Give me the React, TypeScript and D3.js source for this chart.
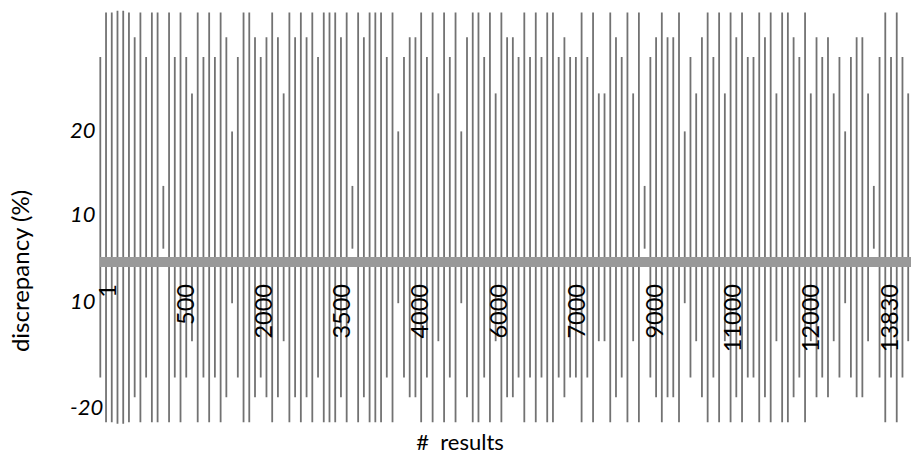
import React, { useEffect, useRef } from 'react';
import * as d3 from 'd3';

// half-spread of the discrepancy for each sampled result, left to right (%)
const spread = [
  19.4, 24.8, 24.8, 25, 25, 24.8, 21.8, 24.8, 19.4, 24.8, 24.8, 3.8,
  24.8, 19.4, 24.8, 19.4, 15, 24.8, 19.4, 24.8, 19.4, 24.8, 21.8, 10.4,
  19.4, 24.8, 24.8, 21.8, 19.4, 21.8, 24.8, 21.8, 15, 24.8, 21.8, 24.8,
  21.8, 24.8, 19.4, 24.8, 24.8, 24.8, 21.8, 24.8, 3.8, 24.8, 21.8, 24.8,
  24.8, 24.8, 19.4, 24.8, 10.4, 19.4, 21.8, 21.8, 24.8, 19.4, 24.8, 15,
  24.8, 19.4, 24.8, 10.4, 21.8, 24.8, 24.8, 19.4, 24.8, 15, 24.8, 21.8,
  21.8, 19.4, 24.8, 19.4, 24.8, 19.4, 24.8, 24.8, 19.4, 21.8, 19.4, 19.4,
  24.8, 19.4, 24.8, 15, 15, 24.8, 21.8, 19.4, 24.8, 15, 24.8, 3.8,
  19.4, 21.8, 24.8, 21.8, 21.8, 24.8, 10.4, 19.4, 15, 21.8, 24.8, 19.4,
  24.8, 15, 24.8, 21.8, 24.8, 19.4, 19.4, 24.8, 21.8, 24.8, 15, 24.8,
  24.8, 21.8, 19.4, 24.8, 15, 21.8, 19.4, 21.8, 15, 19.4, 10.4, 19.4,
  21.8, 21.8, 15, 3.8, 19.4, 24.8, 19.4, 24.8, 19.4, 15,
];

const xTickLabels = ['1', '500', '2000', '3500', '4000', '6000', '7000', '9000', '11000', '12000', '13830'];
const yTickValues = [20, 10, -10, -20];
const yTickLabels = ['20', '10', '10', '-20'];

const font = 'Lato, "Open Sans", sans-serif';

const App = () => {
  const svgRef = useRef(null);

  useEffect(() => {
    const width = 911;
    const height = 461;

    const svg = d3.select(svgRef.current);
    svg.selectAll('*').remove();
    svg.attr('width', width).attr('height', height).style('background', '#fff');

    const x = d3.scaleLinear().domain([0, spread.length - 1]).range([100.3, 908.2]);
    const yLine = d3.scaleLinear().domain([-25, 25]).range([423.8, 10.8]);
    // printed axis is uneven, so the tick scale is piecewise
    const yTick = d3.scaleLinear().domain([20, 10, 0, -10, -20]).range([129.5, 213.5, 262, 301, 406.5]);
    const xTick = d3.scalePoint().domain(xTickLabels).range([107, 889]);

    // discrepancy spans
    svg.append('g')
      .selectAll('line')
      .data(spread)
      .join('line')
      .attr('x1', (d, i) => x(i))
      .attr('x2', (d, i) => x(i))
      .attr('y1', d => yLine(d))
      .attr('y2', d => yLine(-d))
      .attr('stroke', '#727272')
      .attr('stroke-width', 1.8);

    // zero band
    svg.append('line')
      .attr('x1', 100)
      .attr('x2', width)
      .attr('y1', yTick(0))
      .attr('y2', yTick(0))
      .attr('stroke', '#999')
      .attr('stroke-width', 10);

    // y tick labels
    svg.append('g')
      .selectAll('text')
      .data(yTickValues)
      .join('text')
      .attr('x', 70)
      .attr('y', d => yTick(d) + 8)
      .attr('font-family', font)
      .attr('font-style', 'italic')
      .attr('font-size', 22)
      .attr('fill', '#000')
      .text((d, i) => yTickLabels[i]);

    // x tick labels, rotated
    svg.append('g')
      .selectAll('text')
      .data(xTickLabels)
      .join('text')
      .attr('transform', d => `translate(${xTick(d) + 8.5},284) rotate(-90)`)
      .attr('text-anchor', 'end')
      .attr('font-family', font)
      .attr('font-size', 23.5)
      .attr('fill', '#000')
      .text(d => d);

    svg.append('text')
      .attr('transform', 'translate(29,271) rotate(-90)')
      .attr('text-anchor', 'middle')
      .attr('font-family', font)
      .attr('font-size', 24)
      .attr('fill', '#000')
      .text('discrepancy (%)');

    svg.append('text')
      .attr('x', 460)
      .attr('y', 450)
      .attr('text-anchor', 'middle')
      .attr('font-family', font)
      .attr('font-size', 22)
      .attr('fill', '#000')
      .style('white-space', 'pre')
      .text('#  results');
  }, []);

  return <svg ref={svgRef} style={{ position: 'absolute', left: 0, top: 0 }}></svg>;
};

export default App;
